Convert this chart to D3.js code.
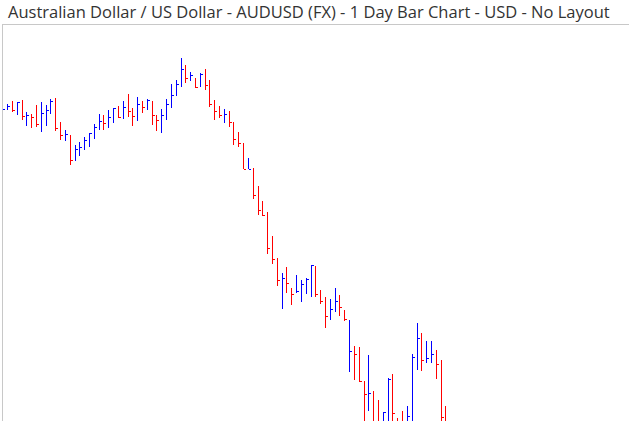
<!DOCTYPE html>
<html>
<head>
<meta charset="utf-8">
<script src="https://cdn.jsdelivr.net/npm/d3@7"></script>
<style>
  html, body { margin: 0; padding: 0; background: #fff; }
  svg { display: block; }
</style>
</head>
<body>
<div id="chart"></div>
<script>
const title = "Australian Dollar / US Dollar - AUDUSD (FX) - 1 Day Bar Chart - USD - No Layout";

// Daily HLC values (AUD/USD)
const high = [0.9465,0.948,0.9495,0.949,0.95,0.944,0.943,0.9475,0.949,0.9475,
  0.9505,0.951,0.939,0.935,0.9325,0.9275,0.929,0.93125,0.9335,0.938,
  0.943,0.9425,0.945,0.946,0.947,0.9495,0.953,0.946,0.9515,0.9495,
  0.9505,0.9495,0.9425,0.9455,0.9505,0.958,0.96,0.971,0.9675,0.964,
  0.961,0.9635,0.9655,0.96,0.95,0.947,0.9455,0.9445,0.939,0.934,
  0.9285,0.921,0.916,0.907,0.8995,0.894,0.882,0.871,0.8635,0.8665,
  0.856,0.8625,0.86,0.861,0.8675,0.867,0.855,0.8515,0.8505,0.856,
  0.8525,0.845,0.84,0.827,0.8265,0.8095,0.8225,0.8045,0.8,0.794,
  0.811,0.813,0.791,0.7945,0.797,0.823,0.8385,0.8335,0.8295,0.8295,
  0.825,0.82,0.797];

const low = [0.94475,0.94475,0.944,0.9425,0.94,0.937,0.936,0.93675,0.934,0.937,
  0.943,0.9345,0.93,0.92975,0.91775,0.91975,0.922,0.925,0.9265,0.9305,
  0.935,0.935,0.936,0.9385,0.941,0.94075,0.94125,0.937,0.93925,0.94375,
  0.945,0.9375,0.9345,0.93375,0.94,0.946,0.952,0.9565,0.9585,0.9595,
  0.956,0.9565,0.95475,0.9465,0.94,0.941,0.93825,0.93625,0.9275,0.92625,
  0.9155,0.9155,0.9005,0.8925,0.892,0.873,0.868,0.857,0.8455,0.8535,
  0.8475,0.8535,0.849,0.853,0.8515,0.8515,0.848,0.836,0.84,0.844,
  0.842,0.83975,0.814,0.81,0.809,0.785,0.7945,0.7825,0.781,0.784,
  0.78,0.7825,0.78,0.779,0.781,0.785,0.815,0.8145,0.8185,0.8185,
  0.8105,0.785,0.7775];

const close = [0.9455,0.947,0.94475,0.949,0.942,0.94225,0.9415,0.938,0.9435,0.945,
  0.9495,0.936,0.9325,0.933,0.92,0.9255,0.9265,0.93,0.9335,0.9365,
  0.9395,0.9385,0.9415,0.946,0.9415,0.9465,0.9445,0.942,0.948,0.9465,
  0.95,0.9425,0.94,0.9425,0.948,0.9525,0.958,0.9655,0.961,0.9625,
  0.9565,0.963,0.9575,0.948,0.9445,0.9425,0.943,0.939,0.9305,0.9285,
  0.9155,0.91575,0.9025,0.895,0.8925,0.876,0.8705,0.86,0.861,0.8585,
  0.853,0.8545,0.858,0.8605,0.8675,0.853,0.8495,0.842,0.8455,0.8495,
  0.8465,0.8405,0.8245,0.823,0.8095,0.803,0.8035,0.786,0.785,0.794,
  0.8105,0.7935,0.784,0.7825,0.792,0.8215,0.831,0.82,0.821,0.823,
  0.818,0.7915,0.7825];

// 1 = up day (blue), -1 = down day (red)
const direction = [1,1,-1,1,-1,1,-1,-1,1,1,
  1,-1,-1,1,-1,1,1,1,1,1,
  1,-1,1,1,-1,1,-1,-1,1,-1,
  1,-1,-1,1,1,1,1,1,-1,1,
  -1,1,-1,-1,-1,-1,1,-1,-1,-1,
  -1,1,-1,-1,-1,-1,-1,-1,1,-1,
  -1,1,1,1,1,-1,-1,-1,1,1,
  -1,-1,1,-1,-1,-1,1,-1,-1,1,
  1,-1,-1,-1,1,1,1,-1,1,1,
  -1,-1,-1];

const W = 629, H = 421;
const bars = high.map((h, i) => ({ i, h, l: low[i], c: close[i], up: direction[i] > 0 }));

const svg = d3.select("#chart").append("svg")
  .attr("width", W).attr("height", H);

svg.append("text")
  .attr("x", 8).attr("y", 18)
  .attr("font-family", "'Open Sans', sans-serif")
  .attr("font-size", 16.5)
  .attr("fill", "#333")
  .text(title);

const x = d3.scaleLinear().domain([0, bars.length - 1]).range([2.3, 445.4]);
const y = d3.scaleLinear().domain([0.7895, 0.971]).range([421, 58]);

const g = svg.append("g").attr("shape-rendering", "crispEdges");
const colorOf = d => d.up ? "#0000ff" : "#ff0000";
const px = d => Math.round(x(d.i)) + 0.5;

g.selectAll("line.hl").data(bars).join("line")
  .attr("class", "hl")
  .attr("x1", px).attr("x2", px)
  .attr("y1", d => Math.round(y(d.h)))
  .attr("y2", d => Math.round(y(d.l)))
  .attr("stroke", colorOf).attr("stroke-width", 1);

g.selectAll("line.cl").data(bars).join("line")
  .attr("class", "cl")
  .attr("x1", d => px(d) + 0.5).attr("x2", d => px(d) + 2.5)
  .attr("y1", d => Math.round(y(d.c)) + 0.5)
  .attr("y2", d => Math.round(y(d.c)) + 0.5)
  .attr("stroke", colorOf).attr("stroke-width", 1);

// frame
const f = svg.append("g").attr("shape-rendering", "crispEdges").attr("stroke", "#c8c8c8");
f.append("line").attr("x1", 2).attr("x2", W).attr("y1", 24.5).attr("y2", 24.5);
f.append("line").attr("x1", 2.5).attr("x2", 2.5).attr("y1", 24).attr("y2", H);
</script>
</body>
</html>
